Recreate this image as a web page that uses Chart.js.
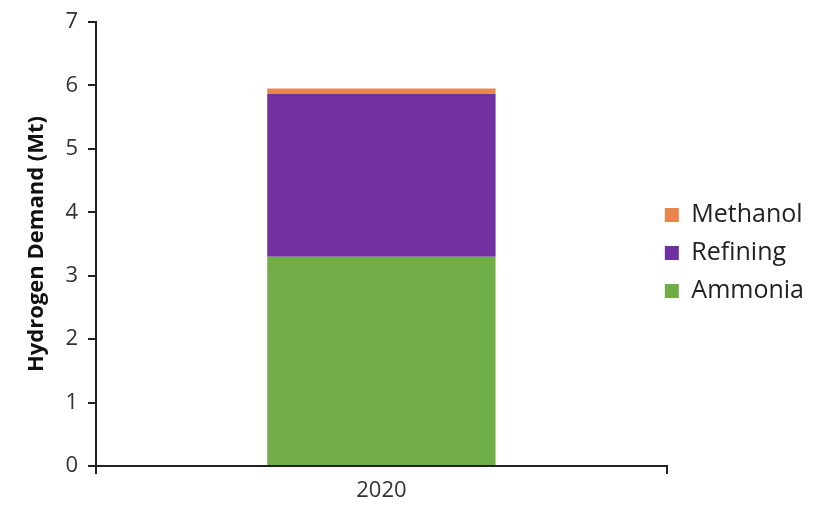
<!DOCTYPE html>
<html>
<head>
<meta charset="utf-8">
<script src="https://cdn.jsdelivr.net/npm/chart.js@4"></script>
<style>
  html, body { margin: 0; padding: 0; background: #fff; }
  #wrap { width: 829px; height: 506px; }
</style>
</head>
<body>
<div id="wrap"><canvas id="chart"></canvas></div>
<script>
const categories = ['2020'];
const ammonia = [3.30];
const refining = [2.57];
const methanol = [0.08];
const yTicks = [0, 1, 2, 3, 4, 5, 6, 7];

const axisColor = '#222';
const font = 'Open Sans';

// nudge the legend left and up, closer to the plot like the original
const legendShift = {
  id: 'legendShift',
  afterLayout(chart) {
    const lg = chart.legend;
    lg.left -= 15;
    lg.right -= 15;
    lg.top -= 11;
    lg.bottom -= 11;
  }
};

new Chart(document.getElementById('chart'), {
  type: 'bar',
  data: {
    labels: categories,
    datasets: [
      { label: 'Ammonia', data: ammonia, backgroundColor: '#70AD47' },
      { label: 'Refining', data: refining, backgroundColor: '#7030A0' },
      { label: 'Methanol', data: methanol, backgroundColor: '#E8874B' }
    ]
  },
  options: {
    responsive: true,
    maintainAspectRatio: false,
    animation: false,
    layout: { padding: { top: 22, right: 0, bottom: 0, left: 10 } },
    datasets: {
      bar: { barPercentage: 0.4, categoryPercentage: 1 }
    },
    plugins: {
      legend: {
        position: 'right',
        reverse: true,
        labels: {
          boxWidth: 14,
          boxHeight: 14,
          padding: 13,
          color: '#222',
          font: { family: font, size: 25 }
        }
      },
      tooltip: { enabled: false }
    },
    scales: {
      x: {
        stacked: true,
        afterFit: s => { s.height = 40; },
        border: { color: axisColor, width: 2 },
        grid: { drawOnChartArea: false, color: axisColor, lineWidth: 2, tickLength: 8 },
        ticks: { color: '#333', padding: 4, font: { family: font, size: 22 } }
      },
      y: {
        stacked: true,
        min: 0,
        max: 7,
        afterBuildTicks: s => { s.ticks = yTicks.map(v => ({ value: v })); },
        afterFit: s => { s.width = 86; s.paddingTop = 0; s.paddingBottom = 0; },
        border: { color: axisColor, width: 2 },
        grid: { drawOnChartArea: false, color: axisColor, lineWidth: 2, tickLength: 8 },
        ticks: { color: '#333', padding: 10, font: { family: font, size: 22 } },
        title: {
          display: true,
          text: 'Hydrogen Demand (Mt)',
          color: '#111',
          padding: { top: 14, bottom: 0 },
          font: { family: font, size: 22, weight: 'bold' }
        }
      }
    }
  },
  plugins: [legendShift]
});
</script>
</body>
</html>
